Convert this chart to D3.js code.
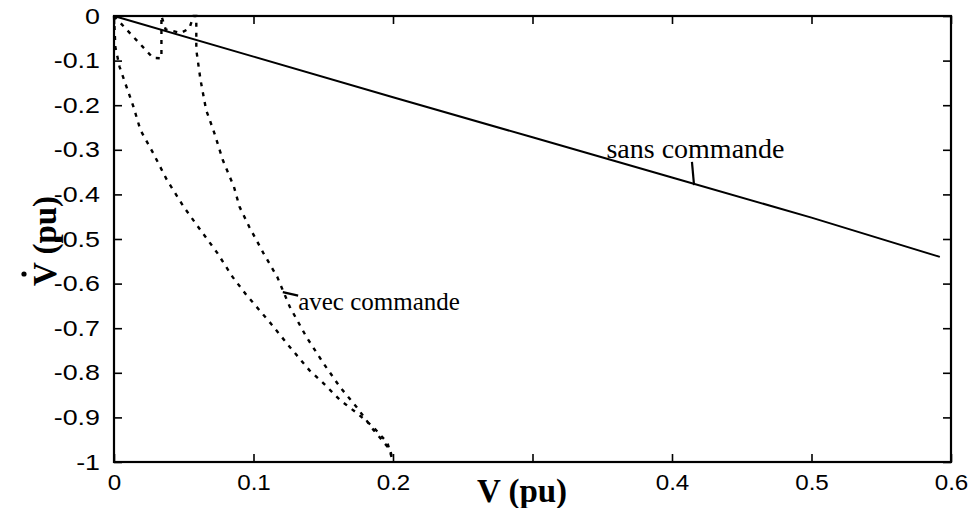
<!DOCTYPE html>
<html><head><meta charset="utf-8">
<script src="https://cdn.jsdelivr.net/npm/d3@7"></script>
<style>html,body{margin:0;padding:0;background:#fff;}</style>
</head><body>
<svg id="c" width="971" height="508"></svg>
<script>
// ---- data ----
const xTicks = [0, 0.1, 0.2, 0.3, 0.4, 0.5, 0.6];
const xTickLabels = ["0", "0.1", "0.2", "", "0.4", "0.5", "0.6"];
const yTicks = [0, -0.1, -0.2, -0.3, -0.4, -0.5, -0.6, -0.7, -0.8, -0.9, -1];
const yTickLabels = ["0", "-0.1", "-0.2", "-0.3", "-0.4", "-0.5", "-0.6", "-0.7", "-0.8", "-0.9", "-1"];

const sansX = [0, 0.1, 0.2, 0.3, 0.4, 0.5, 0.592];
const sansY = [0, -0.091, -0.182, -0.272, -0.362, -0.452, -0.54];

const avecAX = [0, 0.001, 0.004, 0.008, 0.014, 0.019, 0.028, 0.038, 0.050, 0.062, 0.074, 0.085, 0.095, 0.100, 0.112, 0.126, 0.140, 0.150, 0.162, 0.174, 0.186, 0.196, 0.2];
const avecAY = [0, -0.07, -0.114, -0.15, -0.204, -0.256, -0.307, -0.368, -0.428, -0.48, -0.531, -0.585, -0.626, -0.644, -0.688, -0.742, -0.794, -0.823, -0.861, -0.89, -0.922, -0.957, -1];

const avecBX = [0, 0.028, 0.034, 0.034, 0.037, 0.048, 0.054, 0.057, 0.059, 0.059, 0.062, 0.066, 0.072, 0.078, 0.086, 0.090, 0.097, 0.107, 0.117, 0.126, 0.138, 0.150, 0.162, 0.174, 0.186, 0.198, 0.2];
const avecBY = [0, -0.094, -0.095, 0, -0.03, -0.038, -0.028, 0, 0, -0.076, -0.143, -0.21, -0.263, -0.323, -0.383, -0.428, -0.473, -0.531, -0.585, -0.652, -0.72, -0.778, -0.832, -0.877, -0.928, -0.973, -1];

const labels = [
  {text: "sans commande", x: 0.353, y: -0.318, px1: 0.4143, py1: -0.327, px2: 0.4158, py2: -0.379, size: 28},
  {text: "avec commande", x: 0.132, y: -0.66, px1: 0.121, py1: -0.619, px2: 0.132, py2: -0.627, size: 25}
];

// ---- layout ----
const L = 114, R = 951, T = 16, B = 462;
const x = d3.scaleLinear().domain([0, 0.6]).range([L, R]);
const y = d3.scaleLinear().domain([-1, 0]).range([B, T]);
const svg = d3.select("#c");

function stretch(sel, f) {
  sel.each(function() {
    const w = this.getComputedTextLength();
    if (w > 0) { this.setAttribute("textLength", w * f); this.setAttribute("lengthAdjust", "spacingAndGlyphs"); }
  });
}

// axes
const fontTick = "'Liberation Sans', Arial, sans-serif";
const gx = svg.append("g").attr("transform", `translate(0,${B})`)
  .call(d3.axisBottom(x).tickValues(xTicks).tickFormat((d, i) => xTickLabels[i]).tickSizeInner(-8).tickSizeOuter(0).tickPadding(12));
const gy = svg.append("g").attr("transform", `translate(${L},0)`)
  .call(d3.axisLeft(y).tickValues(yTicks).tickFormat((d, i) => yTickLabels[i]).tickSizeInner(-8).tickSizeOuter(0).tickPadding(14));
const gt = svg.append("g").attr("transform", `translate(0,${T})`)
  .call(d3.axisTop(x).tickValues(xTicks).tickFormat("").tickSizeInner(-8).tickSizeOuter(0));
const gr = svg.append("g").attr("transform", `translate(${R},0)`)
  .call(d3.axisRight(y).tickValues(yTicks).tickFormat("").tickSizeInner(-8).tickSizeOuter(0));
[gx, gy, gt, gr].forEach(g => {
  g.select(".domain").remove();
  g.selectAll(".tick line").attr("stroke", "#000").attr("stroke-width", 1.6);
});
gx.selectAll(".tick text").attr("font-family", fontTick).attr("font-size", 22).attr("fill", "#000");
gy.selectAll(".tick text").attr("font-family", fontTick).attr("font-size", 22).attr("fill", "#000");
stretch(gx.selectAll(".tick text"), 1.1);
stretch(gy.selectAll(".tick text"), 1.22);

// frame
svg.append("rect").attr("x", L).attr("y", T).attr("width", R - L).attr("height", B - T)
  .attr("fill", "none").attr("stroke", "#000").attr("stroke-width", 2.2);

// lines
const line = d3.line().x(d => x(d[0])).y(d => y(d[1]));
svg.append("path").datum(sansX.map((v, i) => [v, sansY[i]])).attr("d", line)
  .attr("fill", "none").attr("stroke", "#000").attr("stroke-width", 2);
svg.append("path").datum(avecAX.map((v, i) => [v, avecAY[i]])).attr("d", line)
  .attr("fill", "none").attr("stroke", "#000").attr("stroke-width", 2.4).attr("stroke-dasharray", "4,6");
svg.append("path").datum(avecBX.map((v, i) => [v, avecBY[i]])).attr("d", line)
  .attr("fill", "none").attr("stroke", "#000").attr("stroke-width", 2.4).attr("stroke-dasharray", "4,6");

// annotations
labels.forEach(l => {
  svg.append("line").attr("x1", x(l.px1)).attr("y1", y(l.py1)).attr("x2", x(l.px2)).attr("y2", y(l.py2))
    .attr("stroke", "#000").attr("stroke-width", 2.2);
  svg.append("text").attr("x", x(l.x)).attr("y", y(l.y)).text(l.text)
    .attr("font-family", "'Liberation Serif', 'Times New Roman', serif").attr("font-size", l.size).attr("fill", "#000");
});

// axis titles
svg.append("text").attr("x", 522).attr("y", 502).attr("text-anchor", "middle")
  .attr("font-family", "'Liberation Serif', 'Times New Roman', serif").attr("font-weight", "bold").attr("font-size", 33)
  .text("V (pu)");
const yl = svg.append("g").attr("transform", "translate(56,241) rotate(-90)");
yl.append("text").attr("x", 0).attr("y", 0).attr("text-anchor", "middle")
  .attr("font-family", "'Liberation Serif', 'Times New Roman', serif").attr("font-weight", "bold").attr("font-size", 33)
  .text("V (pu)");
yl.append("circle").attr("cx", -33).attr("cy", -32).attr("r", 2.6).attr("fill", "#000");
</script>
</body></html>
